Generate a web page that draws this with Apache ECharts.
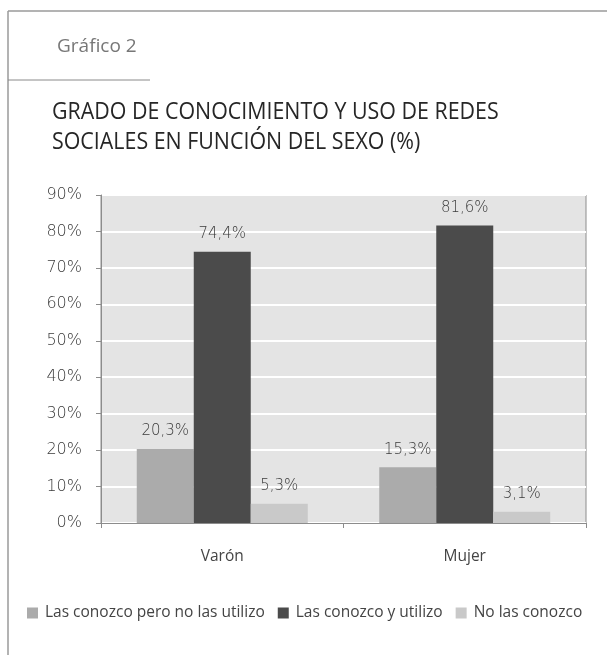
<!DOCTYPE html>
<html>
<head>
<meta charset="utf-8">
<script src="https://cdn.jsdelivr.net/npm/echarts@6/dist/echarts.min.js"></script>
<style>
  html, body { margin: 0; padding: 0; background: #fff; }
  #chart { width: 607px; height: 655px; }
</style>
</head>
<body>
<div id="chart"></div>
<script>
// Categories and series values (%)
var categories = ['Varón', 'Mujer'];
var seriesNames = ['Las conozco pero no las utilizo', 'Las conozco y utilizo', 'No las conozco'];
var conocenNoUsan = [20.3, 15.3];
var conocenUsan = [74.4, 81.6];
var noConocen = [5.3, 3.1];
var yTicks = [0, 10, 20, 30, 40, 50, 60, 70, 80, 90];

var seriesColors = ['#ababab', '#4b4b4b', '#c9c9c9'];
var seriesData = [conocenNoUsan, conocenUsan, noConocen];

var numFont = '"DejaVu Sans", Lato, sans-serif';
var textFont = '"Open Sans", "Noto Sans", sans-serif';

function pct(v) {
  return v.toFixed(1).replace('.', ',') + '%';
}

var chart = echarts.init(document.getElementById('chart'), null, { renderer: 'canvas' });

var option = {
  backgroundColor: '#ffffff',
  animation: false,
  graphic: [
    // page frame
    { type: 'line', shape: { x1: 8, y1: 11, x2: 607, y2: 11 }, style: { stroke: '#9a9a9a', lineWidth: 1.5 } },
    { type: 'line', shape: { x1: 8, y1: 11, x2: 8, y2: 655 }, style: { stroke: '#9a9a9a', lineWidth: 1.5 } },
    // header rule
    { type: 'line', shape: { x1: 8, y1: 80, x2: 150, y2: 80 }, style: { stroke: '#8a8a8a', lineWidth: 1 } },
    { type: 'text', left: 57, top: 37, style: { text: 'Gráfico 2', fill: '#777', font: '19px ' + textFont } },
    { type: 'text', x: 52, y: 97, scaleX: 0.93, style: { text: 'GRADO DE CONOCIMIENTO Y USO DE REDES\nSOCIALES EN FUNCIÓN DEL SEXO (%)', fill: '#262626', font: '500 23px ' + textFont, lineHeight: 30 } }
  ],
  legend: {
    left: 22,
    top: 600,
    itemWidth: 11,
    itemHeight: 11,
    itemGap: 13,
    icon: 'rect',
    data: seriesNames,
    textStyle: { color: '#444', fontSize: 15.5, fontFamily: textFont, padding: [0, 0, 0, 2] }
  },
  grid: {
    left: 101,
    right: 21,
    top: 195,
    bottom: 132,
    show: true,
    backgroundColor: '#e4e4e4',
    borderColor: '#8c8c8c',
    borderWidth: 1
  },
  xAxis: {
    type: 'category',
    data: categories,
    axisLine: { show: true, lineStyle: { color: '#8c8c8c', width: 1 } },
    axisTick: { show: true, length: 5, lineStyle: { color: '#8c8c8c' } },
    axisLabel: { color: '#444', fontSize: 15.5, margin: 26, fontFamily: textFont }
  },
  yAxis: {
    type: 'value',
    min: yTicks[0],
    max: yTicks[yTicks.length - 1],
    interval: 10,
    axisLine: { show: true, lineStyle: { color: '#8c8c8c', width: 1 } },
    axisTick: { show: true, length: 5, lineStyle: { color: '#8c8c8c' } },
    axisLabel: { color: '#3a3a3a', fontSize: 16, fontWeight: 200, margin: 19, fontFamily: numFont, formatter: '{value}%' },
    splitLine: { show: true, lineStyle: { color: '#ffffff', width: 2 } }
  },
  series: seriesNames.map(function (name, i) {
    return {
      name: name,
      type: 'bar',
      data: seriesData[i],
      barWidth: 57,
      barGap: '0%',
      itemStyle: { color: seriesColors[i] },
      label: {
        show: true,
        position: 'top',
        distance: 10,
        color: '#3a3a3a',
        fontSize: 15,
        fontWeight: 200,
        fontFamily: numFont,
        formatter: function (p) { return pct(p.value); }
      }
    };
  })
};

chart.setOption(option);
</script>
</body>
</html>
